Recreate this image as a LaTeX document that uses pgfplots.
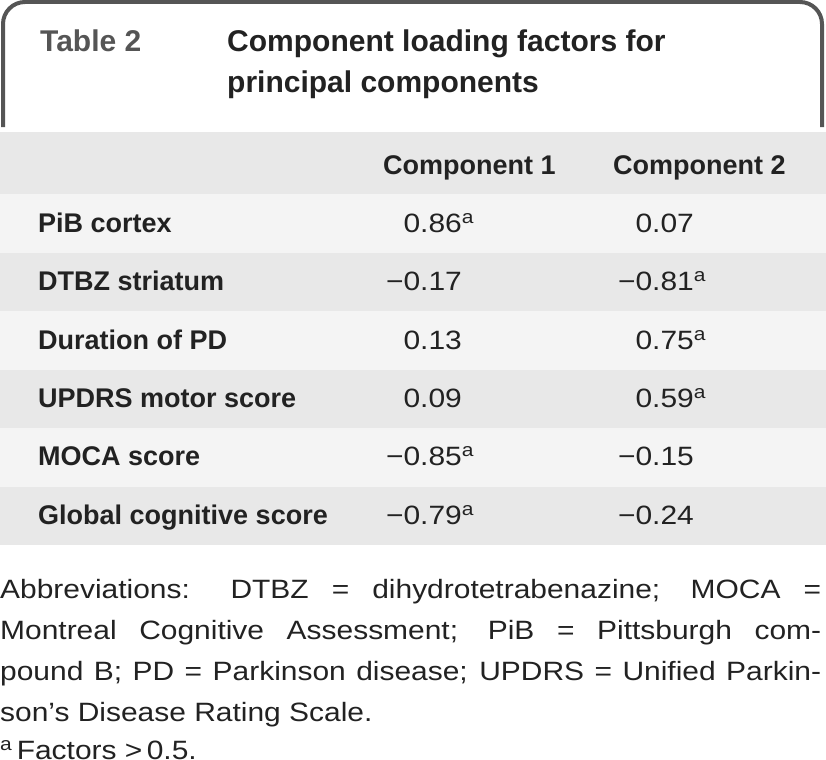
\documentclass[border=0pt]{standalone}
\usepackage{pgfplots}
\usepackage{pgfplotstable}
\pgfplotsset{compat=1.18}
\usepackage{fontspec}
\setmainfont{Liberation Sans}
\newfontfamily\regwide[FakeStretch=1.13]{Liberation Sans}
\definecolor{frame}{HTML}{555555}
\definecolor{rowdark}{HTML}{E8E8E8}
\definecolor{rowlight}{HTML}{F4F4F4}
\definecolor{txt}{HTML}{222222}

% loadings > 0.5 in magnitude (footnote a)
\pgfplotstableread[col sep=comma]{
x,y,val
462,233,0.86
694,291,−0.81
694,350,0.75
694,408,0.59
462,466,−0.85
462,525,−0.79
}\loadhigh

% other loadings
\pgfplotstableread[col sep=comma]{
x,y,val
694,233,0.07
462,291,−0.17
462,350,0.13
462,408,0.09
694,466,−0.15
694,525,−0.24
}\loadlow

\pgfplotstableread[col sep=comma]{
x,y,label
38,233,PiB cortex
38,291,DTBZ striatum
38,350,Duration of PD
38,408,UPDRS motor score
38,466,MOCA score
38,525,Global cognitive score
}\rowlabels

\begin{document}
\begin{tikzpicture}
\begin{axis}[
  width=826bp, height=766bp, scale only axis,
  xmin=0, xmax=826, ymin=0, ymax=766, y dir=reverse,
  hide axis, clip=false,
]
% stripes
\fill[rowdark]  (axis cs:0,133) rectangle (axis cs:826,195);
\fill[rowlight] (axis cs:0,195) rectangle (axis cs:826,254);
\fill[rowdark]  (axis cs:0,254) rectangle (axis cs:826,312);
\fill[rowlight] (axis cs:0,312) rectangle (axis cs:826,371);
\fill[rowdark]  (axis cs:0,371) rectangle (axis cs:826,429);
\fill[rowlight] (axis cs:0,429) rectangle (axis cs:826,488);
\fill[rowdark]  (axis cs:0,488) rectangle (axis cs:826,546);
% header frame
\draw[frame, line width=4bp, rounded corners=22bp]
  (axis cs:3,128) -- (axis cs:3,3) -- (axis cs:822,3) -- (axis cs:822,128);
% title
\node[anchor=base west, inner sep=0pt, text=frame, font=\fontsize{30bp}{36bp}\selectfont\bfseries]
  at (axis cs:40,53) {Table 2};
\node[anchor=base west, inner sep=0pt, text=txt, font=\fontsize{30bp}{36bp}\selectfont\bfseries]
  at (axis cs:227,53) {Component loading factors for};
\node[anchor=base west, inner sep=0pt, text=txt, font=\fontsize{30bp}{36bp}\selectfont\bfseries]
  at (axis cs:227,93) {principal components};
% column headers
\node[anchor=base west, inner sep=0pt, text=txt, font=\fontsize{27bp}{32bp}\selectfont\bfseries]
  at (axis cs:383,175) {Component 1};
\node[anchor=base west, inner sep=0pt, text=txt, font=\fontsize{27bp}{32bp}\selectfont\bfseries]
  at (axis cs:613,175) {Component 2};
% row labels
\addplot[draw=none, mark=none, point meta=explicit symbolic,
  nodes near coords={\pgfplotspointmeta},
  nodes near coords style={anchor=base west, inner sep=0pt, text=txt,
    font=\fontsize{27bp}{32bp}\selectfont\bfseries}]
  table[x=x, y=y, meta=label] {\rowlabels};
% loadings
\addplot[draw=none, mark=none, point meta=explicit symbolic,
  nodes near coords={\pgfplotspointmeta\rlap{\textsuperscript{a}}},
  nodes near coords style={anchor=base east, inner sep=0pt, text=txt,
    font=\regwide\fontsize{26.5bp}{32bp}\selectfont}]
  table[x=x, y=y, meta=val] {\loadhigh};
\addplot[draw=none, mark=none, point meta=explicit symbolic,
  nodes near coords={\pgfplotspointmeta},
  nodes near coords style={anchor=base east, inner sep=0pt, text=txt,
    font=\regwide\fontsize{26.5bp}{32bp}\selectfont}]
  table[x=x, y=y, meta=val] {\loadlow};
% footnote
\node[anchor=base west, inner sep=0pt, text=txt, font=\regwide\fontsize{26.5bp}{32bp}\selectfont]
  at (axis cs:0,599) {\hbox to 821bp{Abbreviations: DTBZ = dihydrotetrabenazine; MOCA =}};
\node[anchor=base west, inner sep=0pt, text=txt, font=\regwide\fontsize{26.5bp}{32bp}\selectfont]
  at (axis cs:0,640) {\hbox to 821bp{Montreal Cognitive Assessment; PiB = Pittsburgh com-}};
\node[anchor=base west, inner sep=0pt, text=txt, font=\regwide\fontsize{26.5bp}{32bp}\selectfont]
  at (axis cs:0,681) {\hbox to 821bp{pound B; PD = Parkinson disease; UPDRS = Unified Parkin-}};
\node[anchor=base west, inner sep=0pt, text=txt, font=\regwide\fontsize{26.5bp}{32bp}\selectfont]
  at (axis cs:0,722) {son’s Disease Rating Scale.};
\node[anchor=base west, inner sep=0pt, text=txt, font=\regwide\fontsize{26.5bp}{32bp}\selectfont]
  at (axis cs:0,760) {\textsuperscript{a}\,Factors >\,0.5.};
\end{axis}
\end{tikzpicture}
\end{document}
